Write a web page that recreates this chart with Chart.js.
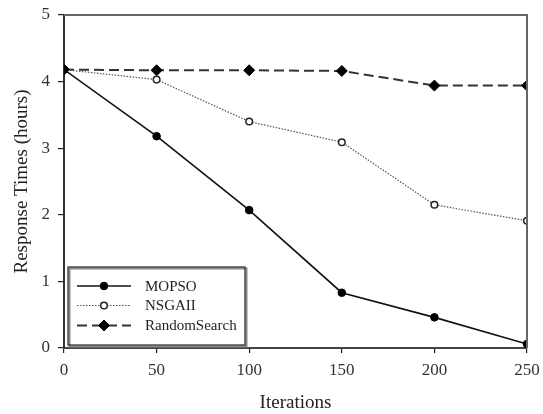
<!DOCTYPE html>
<html>
<head>
<meta charset="utf-8">
<script src="https://cdn.jsdelivr.net/npm/chart.js@4/dist/chart.umd.min.js"></script>
<style>
  html, body { margin: 0; padding: 0; background: #fff; }
  #wrap { width: 543px; height: 414px; }
</style>
</head>
<body>
<div id="wrap"><canvas id="c" width="543" height="414"></canvas></div>
<script>
// Iteration counts on the x axis
const iterations = [0, 50, 100, 150, 200, 250];
// Response times in hours per algorithm
const mopso = [4.18, 3.18, 2.07, 0.83, 0.46, 0.06];
const nsgaii = [4.18, 4.03, 3.40, 3.09, 2.15, 1.91];
const randomSearch = [4.18, 4.17, 4.17, 4.16, 3.94, 3.94];
// Axis tick values
const xTicks = [0, 50, 100, 150, 200, 250];
const yTicks = [0, 1, 2, 3, 4, 5];

const serif = '"Liberation Serif", "DejaVu Serif", serif';

const toPoints = arr => arr.map((v, i) => ({ x: iterations[i], y: v }));

const datasets = [
  {
    label: 'MOPSO',
    data: toPoints(mopso),
    borderColor: '#111',
    backgroundColor: '#000',
    borderWidth: 1.6,
    pointStyle: 'circle',
    pointRadius: 3.8,
    pointBorderColor: '#000',
    pointBackgroundColor: '#000',
    pointBorderWidth: 1
  },
  {
    label: 'NSGAII',
    data: toPoints(nsgaii),
    borderColor: '#555',
    borderWidth: 1.2,
    borderDash: [1.5, 1.5],
    pointStyle: 'circle',
    pointRadius: 3.3,
    pointBorderColor: '#222',
    pointBackgroundColor: '#fff',
    pointBorderWidth: 1.5
  },
  {
    label: 'RandomSearch',
    data: toPoints(randomSearch),
    borderColor: '#333',
    borderWidth: 2,
    borderDash: [10, 5],
    pointStyle: 'rectRot',
    pointRadius: 5.5,
    pointBorderColor: '#000',
    pointBackgroundColor: '#000',
    pointBorderWidth: 1
  }
];

// Frame around the plot area plus a boxed legend in the lower left
const framePlugin = {
  id: 'frameAndLegend',
  afterDatasetsDraw(chart) {
    const { ctx, chartArea: a } = chart;
    ctx.save();
    ctx.strokeStyle = '#666';
    ctx.lineWidth = 2;
    ctx.beginPath();
    ctx.moveTo(a.left, a.top);
    ctx.lineTo(a.right, a.top);
    ctx.lineTo(a.right, a.bottom);
    ctx.stroke();

    // legend box
    const bx = 68, by = 267, bw = 177, bh = 78;
    ctx.fillStyle = '#fff';
    ctx.fillRect(bx, by, bw, bh);
    ctx.strokeStyle = '#888';
    ctx.lineWidth = 2;
    ctx.strokeRect(bx + 1.5, by + 1.5, bw, bh);
    ctx.strokeStyle = '#222';
    ctx.lineWidth = 1.2;
    ctx.strokeRect(bx, by, bw, bh);

    const rows = [286, 305.5, 325.5];
    chart.data.datasets.forEach((ds, i) => {
      const y = rows[i];
      ctx.save();
      ctx.strokeStyle = ds.borderColor;
      ctx.lineWidth = ds.borderWidth;
      ctx.setLineDash(ds.borderDash || []);
      ctx.beginPath();
      ctx.moveTo(77, y);
      ctx.lineTo(131, y);
      ctx.stroke();
      ctx.setLineDash([]);
      ctx.fillStyle = ds.pointBackgroundColor;
      ctx.strokeStyle = ds.pointBorderColor;
      ctx.lineWidth = ds.pointBorderWidth;
      Chart.helpers.drawPoint(ctx, {
        pointStyle: ds.pointStyle,
        radius: ds.pointRadius,
        rotation: 0,
        borderWidth: ds.pointBorderWidth
      }, 104, y);
      ctx.restore();
      ctx.fillStyle = '#222';
      ctx.font = '15px ' + serif;
      ctx.textBaseline = 'middle';
      ctx.textAlign = 'left';
      ctx.fillText(ds.label, 145, y + 1);
    });
    ctx.restore();
  }
};

new Chart(document.getElementById('c'), {
  type: 'line',
  data: { datasets },
  options: {
    responsive: false,
    animation: false,
    layout: { padding: { top: 15, right: 16, left: 0, bottom: 0 } },
    plugins: { legend: { display: false }, tooltip: { enabled: false } },
    scales: {
      x: {
        type: 'linear',
        min: 0,
        max: 250,
        afterFit(s) { s.height = 66; s.paddingLeft = 0; s.paddingRight = 0; },
        afterBuildTicks(s) { s.ticks = xTicks.map(v => ({ value: v })); },
        grid: { drawOnChartArea: false, drawTicks: true, tickLength: 5, color: '#222', lineWidth: 1.2 },
        border: { display: true, color: '#444', width: 2 },
        ticks: { font: { family: serif, size: 17 }, color: '#333', padding: 7 },
        title: { display: true, text: 'Iterations', font: { family: serif, size: 19 }, color: '#222', padding: { top: 4, bottom: 0 } }
      },
      y: {
        min: 0,
        max: 5,
        afterFit(s) { s.width = 64; s.paddingTop = 0; s.paddingBottom = 0; },
        afterBuildTicks(s) { s.ticks = yTicks.map(v => ({ value: v })); },
        grid: { drawOnChartArea: false, drawTicks: true, tickLength: 6, color: '#222', lineWidth: 1.2 },
        border: { display: true, color: '#333', width: 2 },
        ticks: { font: { family: serif, size: 17 }, color: '#333', padding: 8 },
        title: { display: true, text: 'Response Times (hours)', font: { family: serif, size: 19 }, color: '#222', padding: { top: 11, bottom: 0 } }
      }
    }
  },
  plugins: [framePlugin]
});
</script>
</body>
</html>
